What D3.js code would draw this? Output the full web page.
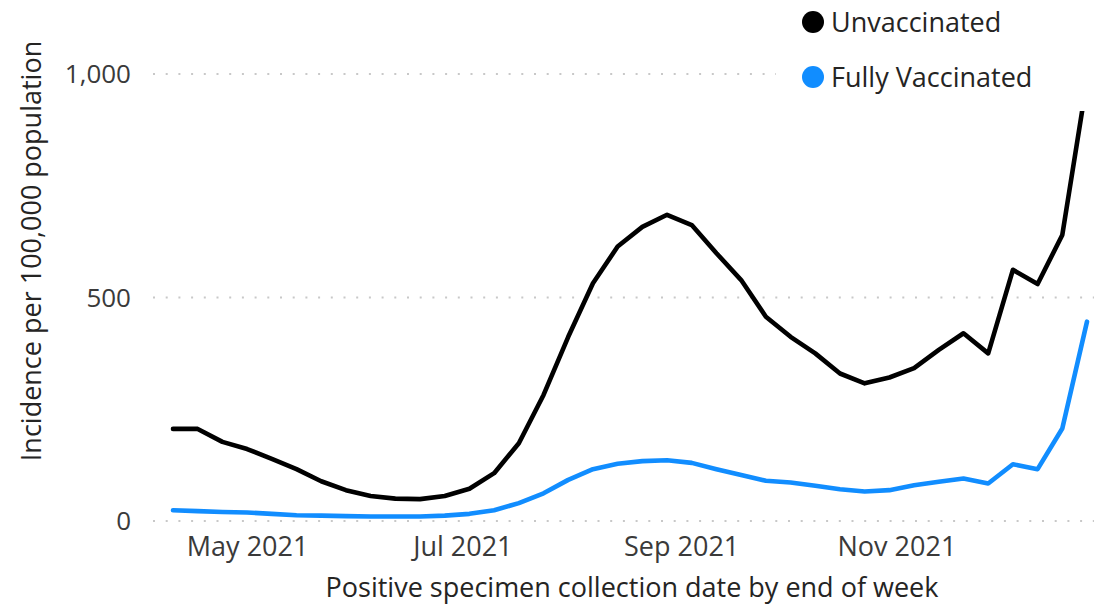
<!DOCTYPE html>
<html>
<head>
<meta charset="utf-8">
<script src="https://cdn.jsdelivr.net/npm/d3@7"></script>
<style>
  html, body { margin: 0; padding: 0; background: #fff; }
  svg { display: block; font-family: "Open Sans", "Noto Sans", sans-serif; }
</style>
</head>
<body>
<svg id="chart" width="1102" height="609"></svg>
<script>
// ---- data ----
const weekEnding = [
  "2021-04-10","2021-04-17","2021-04-24","2021-05-01","2021-05-08","2021-05-15","2021-05-22","2021-05-29",
  "2021-06-05","2021-06-12","2021-06-19","2021-06-26","2021-07-03","2021-07-10","2021-07-17","2021-07-24",
  "2021-07-31","2021-08-07","2021-08-14","2021-08-21","2021-08-28","2021-09-04","2021-09-11","2021-09-18",
  "2021-09-25","2021-10-02","2021-10-09","2021-10-16","2021-10-23","2021-10-30","2021-11-06","2021-11-13",
  "2021-11-20","2021-11-27","2021-12-04","2021-12-11","2021-12-18","2021-12-25"
];
const unvaccinated = [
  206, 206, 177, 161, 139, 116, 89, 69, 56, 50, 49, 56, 72, 107, 174, 282,
  412, 532, 614, 658, 685, 662, 599, 539, 457, 412, 375, 330, 308, 321, 342, 383,
  420, 375, 562, 530, 640, 985
];
const fullyVaccinated = [
  24, 22, 20, 19, 16, 13, 12, 11, 10, 10, 10, 12, 16, 24, 40, 62,
  92, 116, 128, 134, 136, 130, 116, 103, 90, 86, 79, 71, 66, 69, 80, 88,
  95, 84, 127, 116, 207, 446
];
const yTicks = [0, 500, 1000];
const seriesNames = ["Unvaccinated", "Fully Vaccinated"];
const seriesColors = ["#000000", "#118DFF"];
const xTitle = "Positive specimen collection date by end of week";
const yTitle = "Incidence per 100,000 population";

// ---- chart ----
const svg = d3.select("#chart");
const parse = d3.timeParse("%Y-%m-%d");
const dates = weekEnding.map(parse);

const x = d3.scaleTime().domain([dates[0], dates[dates.length - 1]]).range([173, 1087]);
const y = d3.scaleLinear().domain([0, 1000]).range([521, 74]);

// gridlines
svg.append("g").selectAll("line").data(yTicks).join("line")
  .attr("x1", 153).attr("x2", 1094)
  .attr("y1", d => y(d)).attr("y2", d => y(d))
  .attr("stroke", "#c8c8c8").attr("stroke-width", 2)
  .attr("stroke-dasharray", "2,10.7");

// y axis
const yAxis = d3.axisLeft(y).tickValues(yTicks).tickFormat(d3.format(",")).tickSize(0).tickPadding(0);
const gy = svg.append("g").attr("transform", "translate(131,0)").call(yAxis);
gy.select(".domain").remove();
gy.selectAll("text").attr("font-size", 26).attr("fill", "#3a3a3a")
  .attr("font-family", "'Open Sans', sans-serif").attr("dy", "0.34em");

// x axis
const xAxis = d3.axisBottom(x).ticks(d3.timeMonth.every(2)).tickFormat(d3.timeFormat("%b %Y")).tickSize(0).tickPadding(0);
const gx = svg.append("g").attr("transform", "translate(0,530)").call(xAxis);
gx.select(".domain").remove();
gx.selectAll("text").attr("font-size", 27).attr("fill", "#3a3a3a")
  .attr("font-family", "'Open Sans', sans-serif").attr("dy", "0.95em");

// axis titles
svg.append("text").attr("x", 632).attr("y", 597).attr("text-anchor", "middle")
  .attr("font-size", 27).attr("fill", "#252423").text(xTitle);
svg.append("text").attr("transform", "translate(41,251) rotate(-90)").attr("text-anchor", "middle")
  .attr("font-size", 27).attr("fill", "#252423").text(yTitle);

// lines
const series = [unvaccinated, fullyVaccinated];
const line = d3.line().x((d, i) => x(dates[i])).y(d => y(d));
svg.append("g").selectAll("path").data(series).join("path")
  .attr("d", d => line(d))
  .attr("fill", "none")
  .attr("stroke", (d, i) => seriesColors[i])
  .attr("stroke-width", 4.6)
  .attr("stroke-linejoin", "round")
  .attr("stroke-linecap", "round");

// legend (opaque, over plot)
svg.append("rect").attr("x", 776).attr("y", 0).attr("width", 326).attr("height", 111).attr("fill", "#fff");
const lg = svg.append("g").selectAll("g").data(seriesNames).join("g")
  .attr("transform", (d, i) => `translate(813,${[22, 77][i]})`);
lg.append("circle").attr("r", 11).attr("fill", (d, i) => seriesColors[i]);
lg.append("text").attr("x", 18).attr("y", 10).attr("font-size", 27).attr("fill", "#252423").text(d => d);
</script>
</body>
</html>
